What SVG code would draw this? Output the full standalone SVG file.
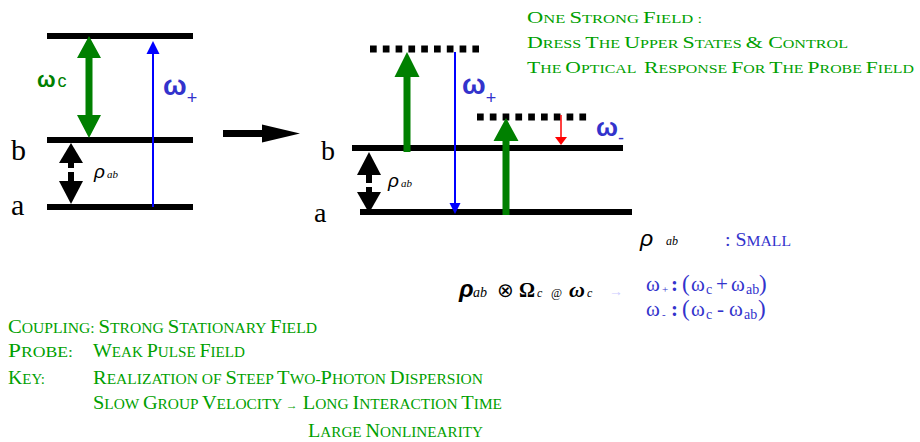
<svg xmlns="http://www.w3.org/2000/svg" width="920" height="442" viewBox="0 0 920 442">
<style>
.lvl{stroke:#000;stroke-width:6;fill:none}
.dot{stroke:#000;stroke-width:7;fill:none;stroke-dasharray:6.7 6.1}
.grn{fill:#008000}
.blk{fill:#000}
.blu{fill:#0000ff}
.red{fill:#ff0000}
.lbl{font-family:"Liberation Serif",serif;fill:#000}
.gt{font-family:"Liberation Serif",serif;fill:#00a000}
.t1{font-size:17px}
.t1 .s{font-size:12.5px}
.t2{font-size:18.5px}
.t2 .s{font-size:14px}
.bt{font-family:"Liberation Serif",serif;fill:#3333cc}
.om{font-family:"Liberation Sans",sans-serif;font-weight:bold}
</style>

<g id="left-diagram">
  <g id="left-levels">
    <line class="lvl" x1="47" y1="36" x2="193" y2="36"/>
    <line class="lvl" x1="47" y1="140" x2="193" y2="140"/>
    <line class="lvl" x1="47" y1="207" x2="193" y2="207"/>
    <text class="lbl" x="11" y="160" font-size="30">b</text>
    <text class="lbl" x="11" y="215" font-size="30">a</text>
  </g>
  <g id="left-coupling">
    <polygon class="grn" points="89,36 101,58 92.5,58 92.5,115 101,115 89,138 77,115 85.5,115 85.5,58 77,58"/>
    <text class="om" x="37" y="87" font-size="22" fill="#008000">ω<tspan font-weight="normal" font-size="18" dx="2">c</tspan></text>
  </g>
  <g id="left-probe">
    <line x1="153" y1="207" x2="153" y2="50" stroke="#0000ff" stroke-width="2"/>
    <polygon class="blu" points="153,41 159.5,54 146.5,54"/>
    <text class="om" x="163" y="95" font-size="28" fill="#3333cc">ω<tspan font-weight="normal" font-size="18" dy="9">+</tspan></text>
  </g>
  <g id="left-coherence">
    <polygon class="blk" points="71,143 83,163 59,163"/>
    <rect class="blk" x="68" y="162" width="6" height="6"/>
    <rect class="blk" x="68" y="172" width="6" height="10"/>
    <polygon class="blk" points="59,181 83,181 71,204"/>
    <text class="lbl" x="94" y="178" font-size="19" font-style="italic" style="font-family:'Liberation Sans',sans-serif">ρ<tspan style="font-family:'Liberation Serif',serif" font-size="11" dx="2">ab</tspan></text>
  </g>
</g>

<g id="connectors">
  <rect class="blk" x="223" y="130" width="40" height="7"/>
  <polygon class="blk" points="262,124.5 300,133.5 262,142.5"/>
</g>

<g id="right-diagram">
  <g id="right-levels">
    <line class="lvl" x1="352" y1="148" x2="623" y2="148"/>
    <line class="lvl" x1="360" y1="212" x2="632" y2="212"/>
    <line class="dot" x1="370" y1="49" x2="479" y2="49"/>
    <line class="dot" x1="477" y1="117" x2="587" y2="117"/>
    <text class="lbl" x="321" y="160" font-size="28">b</text>
    <text class="lbl" x="314" y="222" font-size="28">a</text>
  </g>
  <g id="right-coupling-1">
    <polygon class="grn" points="407,52 419.5,77 410.5,77 410.5,152 403.5,152 403.5,77 394.5,77"/>
  </g>
  <g id="right-coupling-2">
    <polygon class="grn" points="506,118 518.5,141 509.5,141 509.5,215 502.5,215 502.5,141 493.5,141"/>
  </g>
  <g id="right-probe-plus">
    <line x1="455" y1="52" x2="455" y2="205" stroke="#0000ff" stroke-width="2"/>
    <polygon class="blu" points="449.5,203 460.5,203 455,214"/>
    <text class="om" x="462" y="94" font-size="28" fill="#3333cc">ω<tspan font-weight="normal" font-size="18" dy="10">+</tspan></text>
  </g>
  <g id="right-probe-minus">
    <line x1="561" y1="115" x2="561" y2="139" stroke="#ff0000" stroke-width="1.5"/>
    <polygon class="red" points="555,137 567,137 561,145"/>
    <text class="om" x="596" y="136" font-size="26" fill="#3333cc">ω<tspan font-weight="normal" font-size="18" dy="8">-</tspan></text>
  </g>
  <g id="right-coherence">
    <polygon class="blk" points="369,152 381,175 357,175"/>
    <rect class="blk" x="366" y="174" width="6" height="9"/>
    <rect class="blk" x="366" y="187" width="6" height="6"/>
    <polygon class="blk" points="357,192 381,192 369,213"/>
    <text class="lbl" x="388" y="187" font-size="19" font-style="italic" style="font-family:'Liberation Sans',sans-serif">ρ<tspan style="font-family:'Liberation Serif',serif" font-size="11" dx="2">ab</tspan></text>
  </g>
</g>

<g id="title-text">
  <text class="gt t1" x="527" y="23" textLength="175" lengthAdjust="spacingAndGlyphs">O<tspan class="s">NE </tspan>S<tspan class="s">TRONG </tspan>F<tspan class="s">IELD :</tspan></text>
  <text class="gt t1" x="527" y="48" textLength="321" lengthAdjust="spacingAndGlyphs">D<tspan class="s">RESS </tspan>T<tspan class="s">HE </tspan>U<tspan class="s">PPER </tspan>S<tspan class="s">TATES </tspan>&amp; C<tspan class="s">ONTROL</tspan></text>
  <text class="gt t1" x="527" y="73" textLength="387" lengthAdjust="spacingAndGlyphs">T<tspan class="s">HE </tspan>O<tspan class="s">PTICAL</tspan><tspan dx="6">R</tspan><tspan class="s">ESPONSE </tspan>F<tspan class="s">OR </tspan>T<tspan class="s">HE </tspan>P<tspan class="s">ROBE </tspan>F<tspan class="s">IELD</tspan></text>
</g>

<g id="formula">
  <text x="640" y="246" font-size="23" font-style="italic" style="font-family:'Liberation Sans',sans-serif">ρ</text>
  <text x="666" y="245" font-size="12" font-style="italic" style="font-family:'Liberation Serif',serif">ab</text>
  <text class="bt" x="725" y="246" font-size="19" textLength="66" lengthAdjust="spacingAndGlyphs">: S<tspan font-size="15">MALL</tspan></text>

  <g style="font-family:'Liberation Serif',serif" fill="#000">
    <text x="459" y="297" font-size="24" font-weight="bold" font-style="italic" style="font-family:'Liberation Sans',sans-serif">ρ</text>
    <text x="473" y="297" font-size="14" font-style="italic">ab</text>
    <text x="497" y="297" font-size="20">⊗</text>
    <text x="519" y="297" font-size="20" font-weight="bold">Ω</text>
    <text x="537" y="297" font-size="12" font-style="italic">c</text>
    <text x="551" y="297" font-size="12">@</text>
    <text x="569" y="297" font-size="22" font-weight="bold" font-style="italic">ω</text>
    <text x="587" y="297" font-size="12" font-style="italic">c</text>
  </g>
  <text x="609" y="296" font-size="14" fill="#ccccff" style="font-family:'Liberation Serif',serif">→</text>

  <g class="bt">
    <text x="646" y="291" font-size="21">ω</text>
    <text x="662" y="293" font-size="11">+</text>
    <text x="671" y="291" font-size="21" font-weight="bold">:</text>
    <text x="682" y="291" font-size="23">(</text>
    <text x="691" y="291" font-size="21">ω</text>
    <text x="706" y="294" font-size="14">c</text>
    <text x="716" y="291" font-size="21">+</text>
    <text x="731" y="291" font-size="21">ω</text>
    <text x="746" y="294" font-size="14">ab</text>
    <text x="759" y="291" font-size="23">)</text>

    <text x="646" y="316" font-size="21">ω</text>
    <text x="662" y="318" font-size="11">-</text>
    <text x="671" y="316" font-size="21" font-weight="bold">:</text>
    <text x="682" y="316" font-size="23">(</text>
    <text x="691" y="316" font-size="21">ω</text>
    <text x="706" y="319" font-size="14">c</text>
    <text x="717" y="316" font-size="21">-</text>
    <text x="729" y="316" font-size="21">ω</text>
    <text x="744" y="319" font-size="14">ab</text>
    <text x="758" y="316" font-size="23">)</text>
  </g>
</g>

<g id="notes-text">
  <text class="gt t2" x="8" y="333" textLength="309" lengthAdjust="spacingAndGlyphs">C<tspan class="s">OUPLING: </tspan>S<tspan class="s">TRONG </tspan>S<tspan class="s">TATIONARY </tspan>F<tspan class="s">IELD</tspan></text>
  <text class="gt t2" x="8" y="357" textLength="65" lengthAdjust="spacingAndGlyphs">P<tspan class="s">ROBE:</tspan></text>
  <text class="gt t2" x="93" y="357" textLength="152" lengthAdjust="spacingAndGlyphs">W<tspan class="s">EAK </tspan>P<tspan class="s">ULSE </tspan>F<tspan class="s">IELD</tspan></text>
  <text class="gt t2" x="8" y="384" textLength="37" lengthAdjust="spacingAndGlyphs">K<tspan class="s">EY:</tspan></text>
  <text class="gt t2" x="93" y="384" textLength="390" lengthAdjust="spacingAndGlyphs">R<tspan class="s">EALIZATION OF </tspan>S<tspan class="s">TEEP </tspan>T<tspan class="s">WO-</tspan>P<tspan class="s">HOTON </tspan>D<tspan class="s">ISPERSION</tspan></text>
  <text class="gt t2" x="93" y="409" textLength="409" lengthAdjust="spacingAndGlyphs">S<tspan class="s">LOW </tspan>G<tspan class="s">ROUP </tspan>V<tspan class="s">ELOCITY </tspan><tspan font-size="11">→</tspan><tspan> L</tspan><tspan class="s">ONG </tspan>I<tspan class="s">NTERACTION </tspan>T<tspan class="s">IME</tspan></text>
  <text class="gt t2" x="308" y="437" textLength="175" lengthAdjust="spacingAndGlyphs">L<tspan class="s">ARGE </tspan>N<tspan class="s">ONLINEARITY</tspan></text>
</g>
</svg>
